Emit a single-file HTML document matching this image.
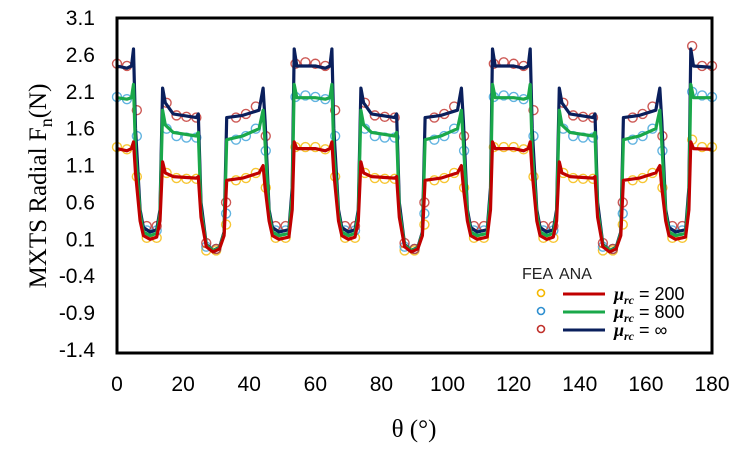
<!DOCTYPE html>
<html><head><meta charset="utf-8"><style>
body{margin:0;background:#fff;width:748px;height:448px;overflow:hidden}
svg text{font-family:"Liberation Sans",Arial,sans-serif}
</style></head><body>
<svg id="chart" width="748" height="448" viewBox="0 0 748 448" xmlns="http://www.w3.org/2000/svg">
<g id="series"></g>
<rect x="117" y="18" width="595" height="335" fill="none" stroke="#000" stroke-width="3"/>
<g id="yticks"></g>
<g id="xticks"></g>
<text transform="translate(46,186) rotate(-90)" text-anchor="middle" font-size="25" style="font-family:'Liberation Serif',serif">MXTS Radial F<tspan font-size="18" dy="6">n</tspan><tspan dy="-6">(N)</tspan></text>
<text x="414" y="437" text-anchor="middle" font-size="25" style="font-family:'Liberation Serif',serif">θ (°)</text>
<g>
<text x="522" y="279" font-size="16" fill="#222">FEA</text>
<text x="559" y="279" font-size="16" fill="#222">ANA</text>
<g><circle cx="541" cy="293" r="3.5" fill="none" stroke="#f5b800" stroke-width="1.6"/><line x1="563" y1="294" x2="605" y2="294" stroke="#c00000" stroke-width="3"/><text x="614" y="300" font-size="18"><tspan font-style="italic" font-weight="bold" style="font-family:'Liberation Serif',serif">μ</tspan><tspan font-style="italic" font-weight="bold" font-size="12" dy="4" style="font-family:'Liberation Serif',serif">rc</tspan><tspan dy="-4"> = 200</tspan></text></g>
<g><circle cx="541" cy="311" r="3.5" fill="none" stroke="#2e8fd0" stroke-width="1.6"/><line x1="563" y1="312" x2="605" y2="312" stroke="#1aa84a" stroke-width="3"/><text x="614" y="318" font-size="18"><tspan font-style="italic" font-weight="bold" style="font-family:'Liberation Serif',serif">μ</tspan><tspan font-style="italic" font-weight="bold" font-size="12" dy="4" style="font-family:'Liberation Serif',serif">rc</tspan><tspan dy="-4"> = 800</tspan></text></g>
<g><circle cx="541" cy="329" r="3.5" fill="none" stroke="#c0302b" stroke-width="1.6"/><line x1="563" y1="330" x2="605" y2="330" stroke="#0a1f5c" stroke-width="3"/><text x="614" y="336" font-size="18"><tspan font-style="italic" font-weight="bold" style="font-family:'Liberation Serif',serif">μ</tspan><tspan font-style="italic" font-weight="bold" font-size="12" dy="4" style="font-family:'Liberation Serif',serif">rc</tspan><tspan dy="-4"> = ∞</tspan></text></g>
</g>
</svg>
<script>
const yTickLabels=["3.1","2.6","2.1","1.6","1.1","0.6","0.1","-0.4","-0.9","-1.4"];
const xTickLabels=["0","20","40","60","80","100","120","140","160","180"];
const anaTheta=[0,3,4.4,5,5.6,7,8,10,12,13,13.8,14.6,17,24,24.6,25.4,27,29,31,32.4,33.2,38,43,44.2,44.8,46,47,49,52,53,53.6,54.4,
60,63,64.4,65,65.6,67,68,70,72,73,73.8,74.6,77,84,84.6,85.4,87,89,91,92.4,93.2,98,103,104.2,104.8,106,107,109,112,113,113.6,114.4,
120,123,124.4,125,125.6,127,128,130,132,133,133.8,134.6,137,144,144.6,145.4,147,149,151,152.4,153.2,158,163,164.2,164.8,166,167,169,172,173,173.6,174.4,180];
const ana200=[1.33,1.3,1.33,1.42,1.0,0.35,0.15,0.1,0.13,0.35,1.15,1.0,0.95,0.93,0.95,0.4,0.0,-0.07,-0.03,0.15,0.9,0.93,1.0,1.1,0.8,0.35,0.15,0.1,0.13,0.5,1.42,1.33,
1.33,1.3,1.33,1.42,1.0,0.35,0.15,0.1,0.13,0.35,1.15,1.0,0.95,0.93,0.95,0.4,0.0,-0.07,-0.03,0.15,0.9,0.93,1.0,1.1,0.8,0.35,0.15,0.1,0.13,0.5,1.42,1.33,
1.33,1.3,1.33,1.42,1.0,0.35,0.15,0.1,0.13,0.35,1.15,1.0,0.95,0.93,0.95,0.4,0.0,-0.07,-0.03,0.15,0.9,0.93,1.0,1.1,0.8,0.35,0.15,0.1,0.13,0.5,1.42,1.33,1.32];
const ana800=[2.02,2.0,2.02,2.2,1.3,0.45,0.2,0.15,0.18,0.45,1.85,1.65,1.55,1.5,1.55,0.5,0.02,-0.05,-0.02,0.18,1.45,1.5,1.6,1.85,1.4,0.45,0.2,0.15,0.18,0.7,2.2,2.02,
2.02,2.0,2.02,2.2,1.3,0.45,0.2,0.15,0.18,0.45,1.85,1.65,1.55,1.5,1.55,0.5,0.02,-0.05,-0.02,0.18,1.45,1.5,1.6,1.85,1.4,0.45,0.2,0.15,0.18,0.7,2.2,2.02,
2.02,2.0,2.02,2.2,1.3,0.45,0.2,0.15,0.18,0.45,1.85,1.65,1.55,1.5,1.55,0.5,0.02,-0.05,-0.02,0.18,1.45,1.5,1.6,1.85,1.4,0.45,0.2,0.15,0.18,0.7,2.2,2.02,2.02];
const anaInf=[2.45,2.42,2.45,2.68,1.6,0.5,0.26,0.2,0.23,0.5,2.15,1.95,1.8,1.75,1.8,0.6,0.03,-0.05,-0.01,0.2,1.75,1.78,1.85,2.15,1.7,0.5,0.26,0.2,0.23,0.8,2.68,2.45,
2.45,2.42,2.45,2.68,1.6,0.5,0.26,0.2,0.23,0.5,2.15,1.95,1.8,1.75,1.8,0.6,0.03,-0.05,-0.01,0.2,1.75,1.78,1.85,2.15,1.7,0.5,0.26,0.2,0.23,0.8,2.68,2.45,
2.45,2.42,2.45,2.68,1.6,0.5,0.26,0.2,0.23,0.5,2.15,1.95,1.8,1.75,1.8,0.6,0.03,-0.05,-0.01,0.2,1.75,1.78,1.85,2.15,1.7,0.5,0.26,0.2,0.23,0.8,2.68,2.45,2.43];
const feaTheta=[0,3,6,9,12,15,18,21,24,27,30,33,36,39,42,45,48,51,54,57,60,63,66,69,72,75,78,81,84,87,90,93,96,99,102,105,108,111,114,117,120,123,126,129,132,135,138,141,144,147,150,153,156,159,162,165,168,171,174,177,180];
const fea200=[1.35,1.32,0.95,0.12,0.12,1.0,0.93,0.92,0.92,-0.05,-0.05,0.3,0.9,0.93,1.0,0.8,0.12,0.12,1.35,1.35,1.35,1.32,0.95,0.12,0.12,1.0,0.93,0.92,0.92,-0.05,-0.05,0.3,0.9,0.93,1.0,0.8,0.12,0.12,1.35,1.35,1.35,1.32,0.95,0.12,0.12,1.0,0.93,0.92,0.92,-0.05,-0.05,0.3,0.9,0.93,1.0,0.8,0.12,0.12,1.45,1.35,1.35];
const fea800=[2.03,2.0,1.5,0.22,0.22,1.6,1.5,1.48,1.48,0.0,-0.03,0.45,1.45,1.5,1.6,1.3,0.22,0.22,2.03,2.05,2.03,2.0,1.5,0.22,0.22,1.6,1.5,1.48,1.48,0.0,-0.03,0.45,1.45,1.5,1.6,1.3,0.22,0.22,2.03,2.05,2.03,2.0,1.5,0.22,0.22,1.6,1.5,1.48,1.48,0.0,-0.03,0.45,1.45,1.5,1.6,1.3,0.22,0.22,2.1,2.05,2.03];
const feaInf=[2.48,2.45,1.85,0.28,0.28,1.95,1.78,1.76,1.75,0.05,-0.03,0.6,1.75,1.8,1.9,1.5,0.28,0.28,2.48,2.5,2.48,2.45,1.85,0.28,0.28,1.95,1.78,1.76,1.75,0.05,-0.03,0.6,1.75,1.8,1.9,1.5,0.28,0.28,2.48,2.5,2.48,2.45,1.85,0.28,0.28,1.95,1.78,1.76,1.75,0.05,-0.03,0.6,1.75,1.8,1.9,1.5,0.28,0.28,2.72,2.45,2.45];

const NS="http://www.w3.org/2000/svg";
const X0=117,X1=712,Y0=18,Y1=350;
function xs(t){return X0+(t/180)*(X1-X0);}
function ys(v){return Y0+(3.1-v)/4.5*(Y1-Y0);}
const series=document.getElementById('series');
function drawFea(vals,color,name){
  const g=document.createElementNS(NS,'g');
  
  
  vals.forEach((v,i)=>{
    const c=document.createElementNS(NS,'circle');
    
    
    c.setAttribute('cx',xs(feaTheta[i]));c.setAttribute('cy',ys(v));c.setAttribute('r',4.5);
    c.setAttribute('fill','none');c.setAttribute('stroke',color);c.setAttribute('stroke-width',1.4);c.setAttribute('opacity',0.8);
    g.appendChild(c);
  });
  series.appendChild(g);
}
function drawLine(vals,color,name){
  const p=document.createElementNS(NS,'path');
  
  
  p.setAttribute('d',vals.map((v,i)=>(i?'L':'M')+xs(anaTheta[i]).toFixed(1)+','+ys(v).toFixed(1)).join(''));
  p.setAttribute('fill','none');p.setAttribute('stroke',color);p.setAttribute('stroke-width',3.2);p.setAttribute('stroke-linejoin','round');
  series.appendChild(p);
}
drawFea(fea200,'#f5b800','fea-series-200');
drawFea(fea800,'#3aa0d8','fea-series-800');
drawFea(feaInf,'#c0302b','fea-series-inf');
drawLine(anaInf,'#0a1f5c','ana-line-inf');
drawLine(ana800,'#1aa84a','ana-line-800');
drawLine(ana200,'#c00000','ana-line-200');

const yt=document.getElementById('yticks');
yTickLabels.forEach(l=>{
  const t=document.createElementNS(NS,'text');
  
  
  t.setAttribute('x',95);t.setAttribute('y',ys(parseFloat(l))+7);
  t.setAttribute('text-anchor','end');t.setAttribute('font-size','21');
  t.textContent=l;yt.appendChild(t);
});
const xt=document.getElementById('xticks');
xTickLabels.forEach(l=>{
  const t=document.createElementNS(NS,'text');
  
  
  t.setAttribute('x',xs(parseFloat(l)));t.setAttribute('y',391);
  t.setAttribute('text-anchor','middle');t.setAttribute('font-size','21');
  t.textContent=l;xt.appendChild(t);
});
</script>
</body></html>
